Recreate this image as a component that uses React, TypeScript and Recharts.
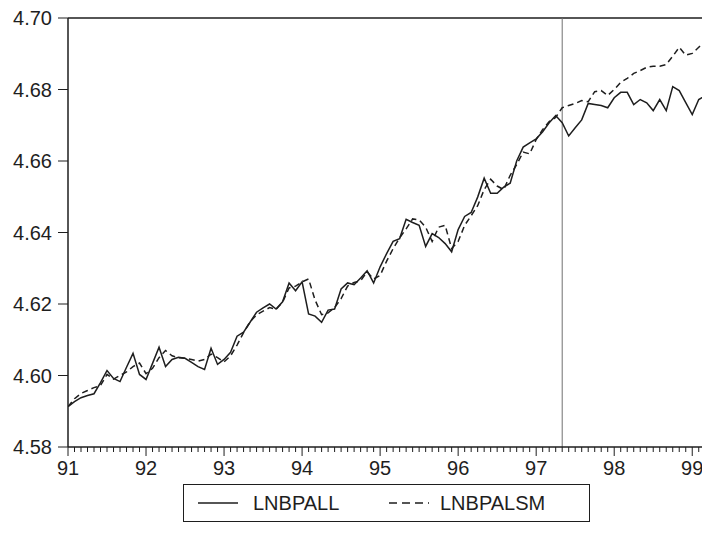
import React from 'react';
import { LineChart, Line, XAxis, YAxis, ReferenceLine, Legend } from 'recharts';

const FONT = '"Liberation Sans", Arial, sans-serif';
const INK = '#1e1e1e';

// Monthly observations 91:01 .. 99:03
const yearLabels = ['91', '92', '93', '94', '95', '96', '97', '98', '99'];

const lnbpall = [
  4.5913, 4.5927, 4.5938, 4.5944, 4.5949, 4.5980, 4.6014, 4.5992, 4.5983, 4.6023,
  4.6062, 4.6003, 4.5989, 4.6034, 4.6079, 4.6025, 4.6045, 4.6051, 4.6048, 4.6037,
  4.6025, 4.6017, 4.6076, 4.6031, 4.6045, 4.6065, 4.6110, 4.6121, 4.6149, 4.6177,
  4.6189, 4.6200, 4.6186, 4.6206, 4.6259, 4.6237, 4.6262, 4.6172, 4.6166, 4.6149,
  4.6183, 4.6186, 4.6242, 4.6259, 4.6254, 4.6273, 4.6293, 4.6259, 4.6304, 4.6341,
  4.6375, 4.6383, 4.6437, 4.6428, 4.6420, 4.6361, 4.6397, 4.6386, 4.6369, 4.6346,
  4.6408, 4.6445, 4.6456, 4.6499, 4.6552, 4.6510, 4.6510, 4.6527, 4.6538, 4.6600,
  4.6639, 4.6651, 4.6662, 4.6682, 4.6707, 4.6727, 4.6707, 4.6670, 4.6693, 4.6715,
  4.6761, 4.6758, 4.6755, 4.6749, 4.6777, 4.6792, 4.6792, 4.6758, 4.6772, 4.6763,
  4.6741, 4.6772, 4.6741, 4.6808, 4.6797, 4.6763, 4.6730, 4.6772, 4.6783,
];

const lnbpalsm = [
  4.5913, 4.5935, 4.5950, 4.5958, 4.5966, 4.5972, 4.6003, 4.5990, 4.6000, 4.6010,
  4.6025, 4.6035, 4.6005, 4.6020, 4.6050, 4.6070, 4.6055, 4.6050, 4.6048, 4.6045,
  4.6040, 4.6045, 4.6060, 4.6050, 4.6038, 4.6055, 4.6085, 4.6120, 4.6150, 4.6170,
  4.6180, 4.6190, 4.6185, 4.6205, 4.6245, 4.6250, 4.6262, 4.6270, 4.6211, 4.6170,
  4.6175, 4.6190, 4.6215, 4.6250, 4.6260, 4.6265, 4.6290, 4.6270, 4.6280, 4.6320,
  4.6355, 4.6385, 4.6410, 4.6438, 4.6435, 4.6415, 4.6375, 4.6415, 4.6420, 4.6355,
  4.6375, 4.6420, 4.6447, 4.6475, 4.6520, 4.6549, 4.6530, 4.6520, 4.6560, 4.6590,
  4.6625, 4.6620, 4.6660, 4.6688, 4.6710, 4.6722, 4.6749, 4.6755, 4.6761, 4.6769,
  4.6766, 4.6794, 4.6797, 4.6783, 4.6800, 4.6820, 4.6831, 4.6845, 4.6853, 4.6862,
  4.6865, 4.6865, 4.6870, 4.6893, 4.6918, 4.6896, 4.6901, 4.6918, 4.6935,
];

const yTicks = [4.58, 4.6, 4.62, 4.64, 4.66, 4.68, 4.7];
const sampleBreak = 76; // 97:05
const xMax = 97.5;

const data = lnbpall.map((v, i) => ({ t: i, LNBPALL: v, LNBPALSM: lnbpalsm[i] }));
const monthTicks = data.map((d) => d.t).filter((t) => t <= xMax);

const XTick = (props: any) => {
  const { x, y, payload } = props;
  const major = payload.value % 12 === 0;
  return (
    <g>
      <line x1={x} x2={x} y1={y} y2={y + (major ? 9 : 5)} stroke={INK} strokeWidth={1} />
      {major && (
        <text x={x} y={y + 28} textAnchor="middle" fontSize={20} fontFamily={FONT} fill={INK}>
          {yearLabels[payload.value / 12]}
        </text>
      )}
    </g>
  );
};

const LegendBox = (props: any) => {
  const items = props.payload || [];
  const pos = [
    { lx: 14, tx: 69 },
    { lx: 205, tx: 256 },
  ];
  return (
    <div
      style={{
        position: 'relative',
        width: 407,
        height: 38,
        border: `1px solid ${INK}`,
        boxSizing: 'border-box',
        fontFamily: FONT,
        fontSize: 20,
        color: INK,
      }}
    >
      {items.map((it: any, i: number) => (
        <React.Fragment key={it.value}>
          <svg
            width={40}
            height={6}
            style={{ position: 'absolute', left: pos[i].lx, top: 15 }}
          >
            <line
              x1={0}
              x2={40}
              y1={3}
              y2={3}
              stroke={INK}
              strokeWidth={1.5}
              strokeDasharray={i === 1 ? '8 5' : undefined}
            />
          </svg>
          <span style={{ position: 'absolute', left: pos[i].tx, top: 6, lineHeight: '24px' }}>
            {it.value}
          </span>
        </React.Fragment>
      ))}
    </div>
  );
};

export default function App() {
  return (
    <div style={{ position: 'absolute', left: 0, top: 0, width: 702, height: 544, background: '#fff' }}>
      <LineChart
        width={702}
        height={544}
        data={data}
        margin={{ top: 18, right: 0, bottom: 0, left: 0 }}
      >
        <XAxis
          dataKey="t"
          type="number"
          domain={[0, xMax]}
          ticks={monthTicks}
          interval={0}
          allowDataOverflow
          height={97}
          tickSize={0}
          tickMargin={0}
          tickLine={false}
          tick={<XTick />}
          axisLine={{ stroke: INK, strokeWidth: 1.5 }}
        />
        <YAxis
          type="number"
          domain={[4.58, 4.7]}
          ticks={yTicks}
          allowDataOverflow
          width={68}
          tickSize={10}
          tickMargin={6}
          tickFormatter={(v: number) => v.toFixed(2)}
          tick={{ fontSize: 20, fontFamily: FONT, fill: INK }}
          tickLine={{ stroke: INK, strokeWidth: 1 }}
          axisLine={{ stroke: INK, strokeWidth: 1.5 }}
        />
        <ReferenceLine y={4.7} stroke={INK} strokeWidth={1.5} />
        <ReferenceLine x={sampleBreak} stroke="#707070" strokeWidth={1} />
        <Line
          type="linear"
          dataKey="LNBPALL"
          stroke={INK}
          strokeWidth={1.5}
          dot={false}
          isAnimationActive={false}
        />
        <Line
          type="linear"
          dataKey="LNBPALSM"
          stroke={INK}
          strokeWidth={1.5}
          strokeDasharray="6 4"
          dot={false}
          isAnimationActive={false}
        />
        <Legend
          layout="horizontal"
          verticalAlign="middle"
          align="center"
          content={<LegendBox />}
          wrapperStyle={{ position: 'absolute', left: 183, top: 484, width: 407, height: 38 }}
        />
      </LineChart>
    </div>
  );
}
